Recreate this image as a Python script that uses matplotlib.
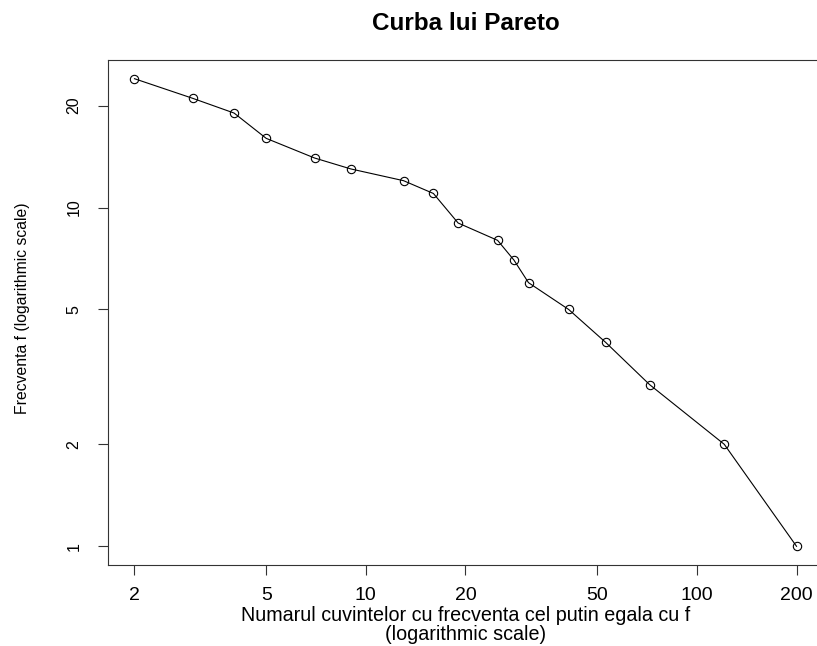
import matplotlib
matplotlib.use("Agg")
import matplotlib.pyplot as plt
import numpy as np

plt.rcParams['font.family'] = ['Liberation Sans', 'DejaVu Sans']

# number of words with frequency at least f
n_words = [2, 3, 4, 5, 7, 9, 13, 16, 19, 25, 28, 31, 41, 53, 72, 121, 200]
# frequency f
freq = [24, 21, 19, 16, 14, 13, 12, 11, 9, 8, 7, 6, 5, 4, 3, 2, 1]

xticks = [2, 5, 10, 20, 50, 100, 200]
yticks = [1, 2, 5, 10, 20]

W, H = 817, 646
L, R, T, B = 108, 823, 60, 565
fig = plt.figure(figsize=(W/100, H/100), dpi=100)
ax = fig.add_axes([L/W, 1-B/H, (R-L)/W, (B-T)/H])
ax.plot(n_words, freq, color='black', lw=0.8, marker='o', ms=6,
        mfc='none', mec='black', mew=0.8)
ax.set_xscale('log')
ax.set_yscale('log')
lx = np.log10([min(n_words), max(n_words)])
px = (lx[1]-lx[0])*0.04
ax.set_xlim(10**(lx[0]-px), 10**(lx[1]+px))
ly = np.log10([min(freq), max(freq)])
py = (ly[1]-ly[0])*0.04
ax.set_ylim(10**(ly[0]-py), 10**(ly[1]+py))
ax.set_xticks(xticks)
ax.set_xticklabels([str(t) for t in xticks])
ax.set_yticks(yticks)
ax.set_yticklabels([str(t) for t in yticks], rotation=90, va='center')
ax.minorticks_off()
ax.tick_params(direction='out', length=7.2, width=0.8, color='#333333')
ax.tick_params(axis='x', labelsize=14, pad=9)
ax.tick_params(axis='y', labelsize=11.5, pad=12)
for s in ax.spines.values():
    s.set_linewidth(0.8)
    s.set_color('#333333')
cx = 0.5*(L+R)/W
fig.text(cx, 1-30/H, 'Curba lui Pareto', ha='center', va='baseline',
         fontsize=17.5, fontweight='bold')
fig.text(cx, 1-621/H, 'Numarul cuvintelor cu frecventa cel putin egala cu f',
         ha='center', va='baseline', fontsize=14.2)
fig.text(cx, 1-640/H, '(logarithmic scale)',
         ha='center', va='baseline', fontsize=14.2)
fig.text(23/W, 1-308/H, 'Frecventa f (logarithmic scale)', rotation=90,
         ha='center', va='center', fontsize=11.3)
fig.savefig('out.png', dpi=100)
